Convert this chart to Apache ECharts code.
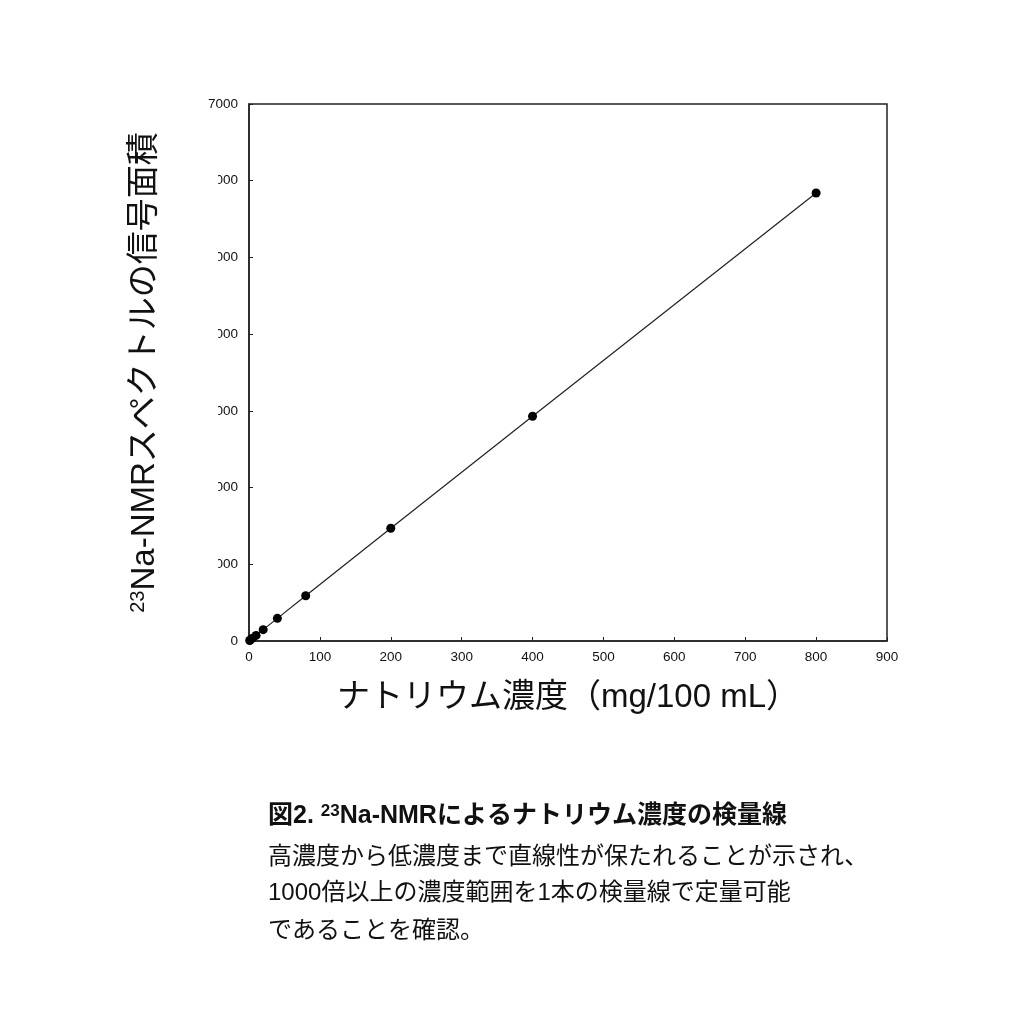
<!DOCTYPE html>
<html><head><meta charset="utf-8">
<script src="https://cdn.jsdelivr.net/npm/echarts@6/dist/echarts.min.js"></script>
<style>html,body{margin:0;padding:0;background:#fff}#c{width:1024px;height:1024px}</style>
</head><body><div id="c"></div>
<script>
const concentration = [1, 2, 5, 10, 20, 40, 80, 200, 400, 800];
const signalArea = [7, 15, 37, 73, 148, 295, 590, 1470, 2930, 5840];
const xTicks = [0, 100, 200, 300, 400, 500, 600, 700, 800, 900];
const yTicks = [0, 1000, 2000, 3000, 4000, 5000, 6000, 7000];
const captionTitle = '図2. {sup|23}Na-NMRによるナトリウム濃度の検量線';
const captionLines = [
  '高濃度から低濃度まで直線性が保たれることが示され、',
  '1000倍以上の濃度範囲を1本の検量線で定量可能',
  'であることを確認。'
];
const font = '"Liberation Sans", "Noto Sans CJK JP", sans-serif';
const chart = echarts.init(document.getElementById('c'));
const pts = concentration.map((x, i) => [x, signalArea[i]]);
chart.setOption({
  animation: false,
  backgroundColor: '#fff',
  grid: { left: 249, top: 104, right: 137, bottom: 383, show: true, borderColor: '#222', borderWidth: 1.5 },
  xAxis: {
    type: 'value', min: xTicks[0], max: xTicks[xTicks.length - 1], interval: xTicks[1] - xTicks[0],
    axisLine: { show: true, lineStyle: { color: '#222', width: 1.5 } },
    axisTick: { show: true, inside: true, length: 4, lineStyle: { color: '#222' } },
    splitLine: { show: false },
    axisLabel: { color: '#111', fontSize: 13.5, fontFamily: font, margin: 10, formatter: v => String(v) },
    name: 'ナトリウム濃度（mg/100 mL）', nameLocation: 'middle', nameGap: 40,
    nameTextStyle: { color: '#111', fontSize: 33, fontFamily: font }
  },
  yAxis: {
    type: 'value', min: yTicks[0], max: yTicks[yTicks.length - 1], interval: yTicks[1] - yTicks[0],
    axisLine: { show: true, lineStyle: { color: '#222', width: 1.5 } },
    axisTick: { show: true, inside: true, length: 4, lineStyle: { color: '#222' } },
    splitLine: { show: false },
    axisLabel: { color: '#111', fontSize: 13.5, fontFamily: font, margin: 11, formatter: v => String(v) },
    name: '{sup|23}Na-NMRスペクトルの信号面積', nameLocation: 'middle', nameGap: 88, nameRotate: 90,
    nameTextStyle: { color: '#111', fontSize: 33, fontFamily: font,
      rich: { sup: { fontSize: 20, fontFamily: font, color: '#111', verticalAlign: 'top', padding: [0,0,12,0] } } }
  },
  series: [{
    type: 'line', data: pts, symbol: 'circle', symbolSize: 9,
    itemStyle: { color: '#000' }, lineStyle: { color: '#222', width: 1.2 }
  }],
  graphic: [
    { type: 'rect', shape: { x: 195, y: 150, width: 23, height: 450 }, style: { fill: '#fff' }, z: 100 },
    { type: 'text', left: 268, top: 803, z: 100,
      style: { text: captionTitle, fontSize: 25, fontWeight: 'bold', fontFamily: font, fill: '#111',
        rich: { sup: { fontSize: 17, fontWeight: 'bold', fontFamily: font, fill: '#111', verticalAlign: 'top', padding: [0,0,9,0] } } } },
    { type: 'text', left: 268, top: 845, z: 100, style: { text: captionLines[0], fontSize: 24, fontFamily: font, fill: '#111' } },
    { type: 'text', left: 268, top: 881, z: 100, style: { text: captionLines[1], fontSize: 24, fontFamily: font, fill: '#111' } },
    { type: 'text', left: 268, top: 919, z: 100, style: { text: captionLines[2], fontSize: 24, fontFamily: font, fill: '#111' } }
  ]
});
</script></body></html>
